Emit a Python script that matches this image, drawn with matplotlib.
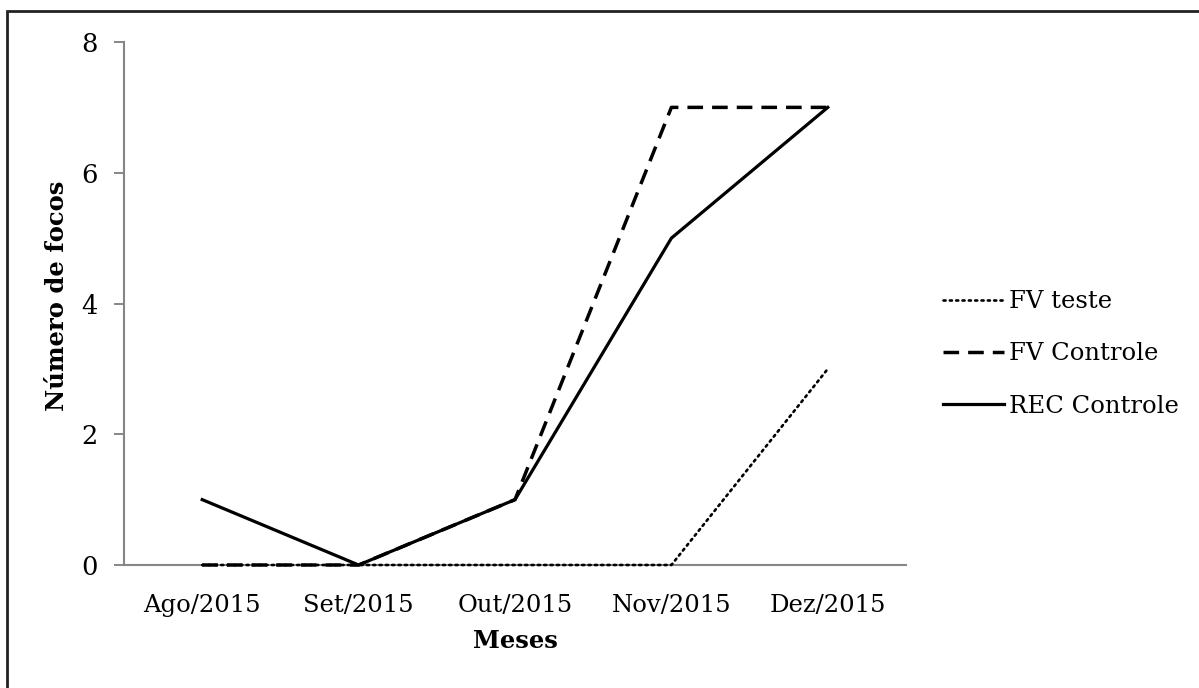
"""Número de focos por mês (Ago-Dez/2015)."""

import matplotlib
matplotlib.use("Agg")
import matplotlib.pyplot as plt
from matplotlib.patches import Rectangle

meses = ["Ago/2015", "Set/2015", "Out/2015", "Nov/2015", "Dez/2015"]
fv_teste = [0, 0, 0, 0, 3]
fv_controle = [0, 0, 1, 7, 7]
rec_controle = [1, 0, 1, 5, 7]
y_ticks = [0, 2, 4, 6, 8]

W, H = 1199, 688
FS = 17.5

plt.rcParams["font.family"] = ["DejaVu Serif"]

fig = plt.figure(figsize=(W / 100, H / 100), dpi=100)
ax = fig.add_axes([124 / W, 1 - 565 / H, (906 - 124) / W, (565 - 42) / H])

x = range(len(meses))
ax.plot(x, fv_teste, color="black", lw=1.9, linestyle=(0, (0.8, 1.6)),
        dash_capstyle="round", label="FV teste", clip_on=False, zorder=3)
ax.plot(x, fv_controle, color="black", lw=2.5, linestyle=(0, (4.5, 2.6)),
        label="FV Controle", clip_on=False, zorder=4)
ax.plot(x, rec_controle, color="black", lw=2.3, label="REC Controle",
        clip_on=False, zorder=5)

ax.set_xlim(-0.5, len(meses) - 0.5)
ax.set_ylim(0, 8)
ax.set_xticks(list(x))
ax.set_xticklabels(meses, fontsize=FS)
ax.set_yticks(y_ticks)
ax.set_yticklabels([str(v) for v in y_ticks], fontsize=FS + 1)
ax.tick_params(axis="x", length=0, pad=21)
ax.tick_params(axis="y", length=7.2, width=1.4, color="#868686", pad=12)

for side in ("top", "right"):
    ax.spines[side].set_visible(False)
for side in ("left", "bottom"):
    ax.spines[side].set_color("#868686")
    ax.spines[side].set_linewidth(1.5)
    ax.spines[side].set_zorder(1)

fig.text(515 / W, 1 - 641 / H, "Meses", ha="center", va="center",
         fontsize=FS, fontweight="bold")
fig.text(57 / W, 1 - 296 / H, "Número de focos", ha="center", va="center",
         rotation=90, fontsize=FS, fontweight="bold")

ax.legend(loc="center left", bbox_to_anchor=(943 / W, 1 - 354 / H),
          bbox_transform=fig.transFigure, frameon=False, fontsize=FS,
          handlelength=2.5, handletextpad=0.2, labelspacing=1.2,
          borderpad=0, borderaxespad=0)

# outer chart border (only top and left edges fall inside the image)
fig.add_artist(Rectangle((7 / W, -0.1), 1.2, 1.1 - 11 / H,
                         transform=fig.transFigure, fill=False,
                         edgecolor="#222222", lw=2, clip_on=False))

fig.savefig("out.png", dpi=100)
